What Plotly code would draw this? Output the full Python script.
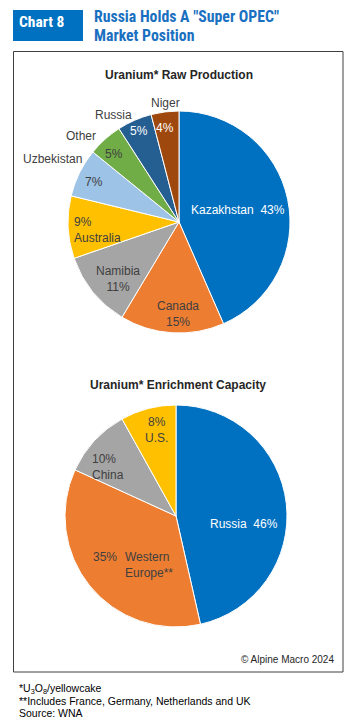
import math
import plotly.graph_objects as go

W, H = 358, 719

# ---- data ----
prod_labels = ["Kazakhstan", "Canada", "Namibia", "Australia", "Uzbekistan", "Other", "Russia", "Niger"]
prod_values = [43, 15, 11, 9, 7, 5, 5, 4]
prod_colors = ["#0070C0", "#ED7D31", "#A5A5A5", "#FFC000", "#9DC3E6", "#70AD47", "#255E91", "#9E480E"]

enr_labels = ["Russia", "Western Europe**", "China", "U.S."]
enr_values = [46, 35, 10, 8]
enr_colors = ["#0070C0", "#ED7D31", "#A5A5A5", "#FFC000"]

# label styling per slice: list of (text, radius factor, angle offset, color, align, xanchor)
DARK = "#404040"
prod_text = [
    [("Kazakhstan  43%", 0.54, 0, "white", "center", "center")],
    [("Canada<br>15%", 0.83, -3, DARK, "center", "center")],
    [("Namibia<br>11%", 0.75, -4, DARK, "center", "center")],
    [("9%<br>Australia", 0.74, -3, DARK, "left", "center")],
    [("7%", 0.85, -1, DARK, "center", "center"), ("Uzbekistan", 1.27, 0, DARK, "center", "center")],
    [("5%", 0.85, -2, DARK, "center", "center"), ("Other", 1.17, -7, DARK, "center", "center")],
    [("5%", 0.89, 0, "white", "center", "center"), ("Russia", 1.13, -8, DARK, "center", "center")],
    [("4%", 0.86, -1, "white", "center", "center"), ("Niger", 1.08, 1, DARK, "center", "center")],
]
enr_text = [
    [("Russia  46%", 0.62, 13, "white", "center", "center")],
    [("35%", 0.742, 9.3, DARK, "center", "center"),
     ("Western<br>Europe**", 0.65, -3.7, DARK, "left", "left")],
    [("10%<br>China", 0.75, -7, DARK, "left", "center")],
    [("8%<br>U.S.", 0.79, 2, DARK, "center", "center")],
]

# pie geometry in pixels
PIES = [
    dict(cx=179, cy=222, r=111),
    dict(cx=176, cy=516, r=111),
]

def px(x):
    return x / W

def py(y):
    return 1 - y / H

fig = go.Figure()
annotations = []

for pie, labels, values, colors, texts in [
    (PIES[0], prod_labels, prod_values, prod_colors, prod_text),
    (PIES[1], enr_labels, enr_values, enr_colors, enr_text),
]:
    cx, cy, r = pie["cx"], pie["cy"], pie["r"]
    fig.add_trace(go.Pie(
        labels=labels, values=values, sort=False, direction="clockwise", rotation=0,
        marker=dict(colors=colors, line=dict(color="white", width=1)),
        textinfo="none", hoverinfo="label+value", showlegend=False,
        domain=dict(x=[px(cx - r), px(cx + r)], y=[py(cy + r), py(cy - r)]),
    ))
    total = sum(values)
    cum = 0
    for v, items in zip(values, texts):
        mid = (cum + v / 2) / total * 360
        cum += v
        for text, f, dth, col, al, xa in items:
            th = math.radians(mid + dth)
            x = cx + f * r * math.sin(th)
            y = cy - f * r * math.cos(th)
            annotations.append(dict(
                x=px(x), y=py(y), xref="paper", yref="paper", text=text, showarrow=False,
                xanchor=xa, yanchor="middle", align=al,
                font=dict(family="Liberation Sans, Arial", size=12, color=col),
            ))

# titles
annotations += [
    dict(x=px(178.5), y=py(75), text="<b>Uranium* Raw Production</b>"),
    dict(x=px(177.5), y=py(385), text="<b>Uranium* Enrichment Capacity</b>"),
]
for a in annotations[-2:]:
    a.update(xref="paper", yref="paper", showarrow=False, xanchor="center", yanchor="middle",
             font=dict(family="Liberation Sans, Arial", size=12, color="#262626"))

HEAD = "Liberation Sans Narrow, Roboto Condensed, Liberation Sans, Arial"
annotations += [
    dict(x=px(42), y=py(22), text="<b>Chart 8</b>", xref="paper", yref="paper", showarrow=False,
         xanchor="center", yanchor="middle", font=dict(family=HEAD, size=15.5, color="white")),
    dict(x=px(92), y=py(17), text='<b>Russia Holds A "Super OPEC"</b>', xref="paper", yref="paper",
         showarrow=False, xanchor="left", yanchor="middle", font=dict(family=HEAD, size=15.8, color="#1A70C0")),
    dict(x=px(92), y=py(35), text="<b>Market Position</b>", xref="paper", yref="paper",
         showarrow=False, xanchor="left", yanchor="middle", font=dict(family=HEAD, size=15.8, color="#1A70C0")),
    dict(x=px(336), y=py(659), text="© Alpine Macro 2024", xref="paper", yref="paper", showarrow=False,
         xanchor="right", yanchor="middle", font=dict(family="Liberation Sans, Arial", size=10, color="#262626")),
    dict(x=px(17), y=py(689), text="*U<sub>3</sub>O<sub>8</sub>/yellowcake", xref="paper", yref="paper",
         showarrow=False, xanchor="left", yanchor="middle", font=dict(family="Liberation Sans, Arial", size=10.5, color="#000000")),
    dict(x=px(17), y=py(701), text="**Includes France, Germany, Netherlands and UK", xref="paper", yref="paper",
         showarrow=False, xanchor="left", yanchor="middle", font=dict(family="Liberation Sans, Arial", size=10.5, color="#000000")),
    dict(x=px(17), y=py(713), text="Source: WNA", xref="paper", yref="paper",
         showarrow=False, xanchor="left", yanchor="middle", font=dict(family="Liberation Sans, Arial", size=10.5, color="#000000")),
]

shapes = [
    dict(type="rect", xref="paper", yref="paper", x0=px(13), x1=px(83), y0=py(41), y1=py(10),
         fillcolor="#0070C0", line=dict(width=0), layer="below"),
    dict(type="rect", xref="paper", yref="paper", x0=px(13.5), x1=px(343), y0=py(672), y1=py(51.5),
         fillcolor="rgba(0,0,0,0)", line=dict(color="#404040", width=1)),
]

fig.update_layout(
    width=W, height=H, margin=dict(l=0, r=0, t=0, b=0),
    paper_bgcolor="white", plot_bgcolor="white",
    annotations=annotations, shapes=shapes,
)

fig.write_html("out.html", config={"displayModeBar": False},
               post_script="document.body.style.margin='0px';document.body.style.overflow='hidden';")
